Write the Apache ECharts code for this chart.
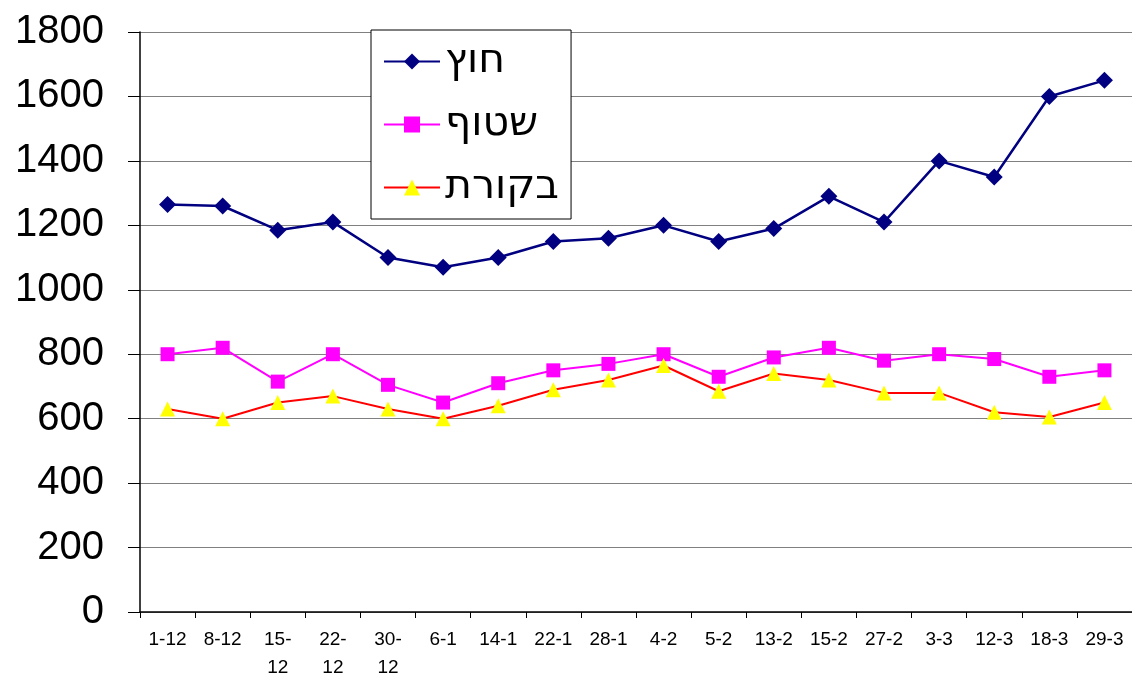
<!DOCTYPE html>
<html>
<head>
<meta charset="utf-8">
<script src="https://cdn.jsdelivr.net/npm/echarts@6/dist/echarts.min.js"></script>
<style>
html, body { margin: 0; padding: 0; background: #fff; }
#main { width: 1132px; height: 679px; }
</style>
</head>
<body>
<div id="main"></div>
<script>
var categories = ['1-12', '8-12', '15-12', '22-12', '30-12', '6-1', '14-1', '22-1', '28-1',
    '4-2', '5-2', '13-2', '15-2', '27-2', '3-3', '12-3', '18-3', '29-3'];
var hutz = [1265, 1260, 1185, 1210, 1100, 1070, 1100, 1150, 1160, 1200, 1150, 1190, 1290, 1210, 1400, 1350, 1600, 1650];
var shatuf = [800, 820, 715, 800, 705, 650, 710, 750, 770, 800, 730, 790, 820, 780, 800, 785, 730, 750];
var bikoret = [630, 600, 650, 670, 630, 600, 640, 690, 720, 765, 685, 740, 720, 680, 680, 620, 605, 650];
var yTicks = [0, 200, 400, 600, 800, 1000, 1200, 1400, 1600, 1800];

var myChart = echarts.init(document.getElementById('main'));
var option = {
    animation: false,
    textStyle: { fontFamily: 'Liberation Sans' },
    grid: { left: 140, right: 0, top: 32, bottom: 67, outerBoundsMode: 'none', containLabel: false },
    legend: {
        orient: 'vertical',
        left: 371,
        top: 30,
        padding: [11, 12, 11, 12],
        itemGap: 22,
        itemWidth: 56,
        itemHeight: 20,
        borderColor: '#000',
        borderWidth: 1,
        backgroundColor: '#fff',
        textStyle: { fontSize: 41, color: '#000', fontFamily: 'DejaVu Sans' },
        data: ['חוץ', 'שטוף', 'בקורת']
    },
    xAxis: {
        type: 'category',
        data: categories,
        boundaryGap: true,
        axisLine: { lineStyle: { color: '#000', width: 1.5 } },
        axisTick: { show: true, length: 6, lineStyle: { color: '#000' } },
        axisLabel: {
            interval: 0,
            fontSize: 19,
            color: '#000',
            margin: 14,
            lineHeight: 28,
            verticalAlign: 'top',
            formatter: function (v) {
                var p = v.split('-');
                if (p[0].length > 1 && p[1].length > 1) return p[0] + '-\n' + p[1];
                return v;
            }
        }
    },
    yAxis: {
        type: 'value',
        min: 0,
        max: 1800,
        interval: 200,
        axisLine: { show: true, lineStyle: { color: '#000', width: 1.5 } },
        axisTick: { show: true, inside: false, length: 12, lineStyle: { color: '#000' } },
        splitLine: { lineStyle: { color: '#808080', width: 1.2 } },
        axisLabel: {
            fontSize: 40,
            color: '#000',
            margin: 36,
            formatter: function (v) { return yTicks.indexOf(v) >= 0 ? String(v) : ''; }
        }
    },
    series: [
        {
            name: 'חוץ',
            type: 'line',
            data: hutz,
            symbol: 'diamond',
            symbolSize: 17,
            lineStyle: { color: '#000080', width: 2.5 },
            itemStyle: { color: '#000080' }
        },
        {
            name: 'שטוף',
            type: 'line',
            data: shatuf,
            symbol: 'rect',
            symbolSize: 14,
            lineStyle: { color: '#ff00ff', width: 2 },
            itemStyle: { color: '#ff00ff' }
        },
        {
            name: 'בקורת',
            type: 'line',
            data: bikoret,
            symbol: 'triangle',
            symbolSize: 15,
            lineStyle: { color: '#ff0000', width: 2 },
            itemStyle: { color: '#ffff00' }
        }
    ]
};
myChart.setOption(option, true);
</script>
</body>
</html>
